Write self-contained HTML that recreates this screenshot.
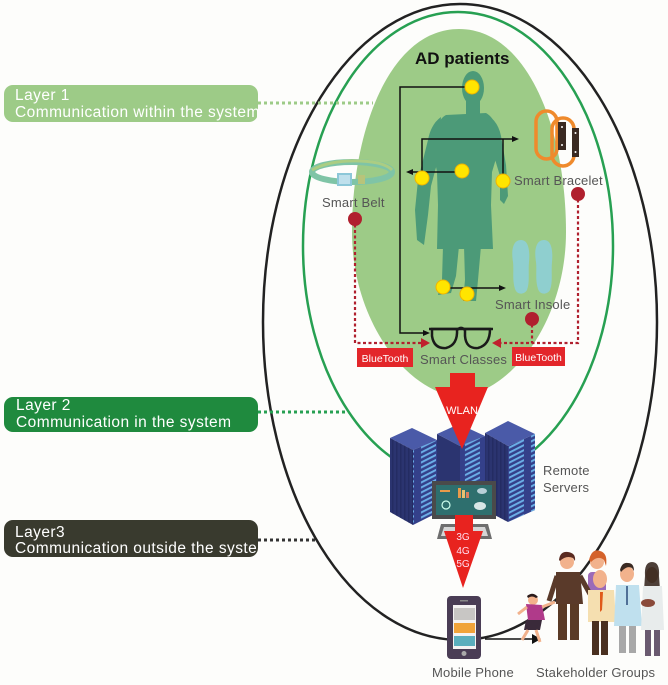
<!DOCTYPE html>
<html><head><meta charset="utf-8"><style>
html,body{margin:0;padding:0;background:#fdfdfb;}
svg{display:block;}
text{font-family:"Liberation Sans",sans-serif;}
.lbl{letter-spacing:0.2px;}
.lay{letter-spacing:0.45px;}
</style></head><body>
<svg width="668" height="685" viewBox="0 0 668 685" xmlns="http://www.w3.org/2000/svg">
<defs>
<pattern id="slots" width="22" height="5" patternUnits="userSpaceOnUse" patternTransform="skewY(-27)">
<rect x="3" y="1" width="15" height="2.2" fill="#6aaee6"/>
</pattern>
<pattern id="vents" width="4" height="10" patternUnits="userSpaceOnUse" patternTransform="skewY(27)">
<rect x="0" y="0" width="1.5" height="10" fill="#1f275a"/>
</pattern>
<clipPath id="boxclip"><rect x="0" y="0" width="258" height="685"/></clipPath>
</defs>
<rect width="668" height="685" fill="#fdfdfb"/>

<!-- outer black ellipse -->
<ellipse cx="460" cy="322" rx="197" ry="318" fill="none" stroke="#222" stroke-width="2.5"/>
<!-- green ellipse -->
<ellipse cx="458" cy="246" rx="155" ry="234" fill="none" stroke="#27a052" stroke-width="2.5"/>
<!-- light green egg -->
<path d="M459,29 C528,29 566,130 566,232 C566,320 512,392 459,397 C406,392 352,320 352,232 C352,130 390,29 459,29 Z" fill="#9dcb87"/>

<!-- layer boxes -->
<rect x="4" y="85" width="254" height="37" rx="9" fill="#9dcb87"/>
<g clip-path="url(#boxclip)">
<text class="lay" x="15" y="100" font-size="15.5" fill="#fff">Layer 1</text>
<text class="lay" x="15" y="117" font-size="15.5" fill="#fff">Communication within the system</text>
</g>
<line x1="258" y1="103" x2="373" y2="103" stroke="#9dcb87" stroke-width="3" stroke-dasharray="3,3"/>

<rect x="4" y="397" width="254" height="35" rx="9" fill="#1f8a3e"/>
<g clip-path="url(#boxclip)">
<text class="lay" x="16" y="410" font-size="15.5" fill="#fff">Layer 2</text>
<text class="lay" x="16" y="427" font-size="15.5" fill="#fff">Communication in the system</text>
</g>
<line x1="258" y1="412" x2="349" y2="412" stroke="#27a052" stroke-width="3" stroke-dasharray="3,3"/>

<rect x="4" y="520" width="254" height="37" rx="9" fill="#393a2e"/>
<g clip-path="url(#boxclip)">
<text class="lay" x="15" y="537" font-size="15.5" fill="#fff">Layer3</text>
<text class="lay" x="15" y="553" font-size="15.5" fill="#fff">Communication outside the system</text>
</g>
<line x1="258" y1="540" x2="318" y2="540" stroke="#333" stroke-width="3" stroke-dasharray="3,3"/>

<!-- AD patients -->
<text x="415" y="64" font-size="17" font-weight="bold" fill="#111">AD patients</text>

<!-- silhouette -->
<g fill="#4c9a78">
<ellipse cx="473" cy="88" rx="11" ry="17"/>
<rect x="466" y="98" width="14" height="18"/>
<path d="M446,115 L486,113 Q495,118 497,132 L498,152 L492,172 L491,205 L493,249 L437,249 L438,205 L437,172 L432,146 Q436,120 446,115 Z"/>
<path d="M441,117 Q431,124 428,140 L418,180 L415,210 L417,240 L424,245 L428,215 L431,186 L438,160 Z"/>
<path d="M487,115 Q498,121 501,136 L506,165 L508,196 L504,204 L500,200 L500,176 L494,156 Z"/>
<path d="M443,246 L459,246 L456,276 L451,293 L438,295 L442,280 Z"/>
<path d="M464,246 L481,246 L478,280 L476,301 L463,301 L465,280 Z"/>
</g>

<!-- black connectors -->
<g stroke="#111" stroke-width="1.5" fill="none">
<polyline points="472,87 400,87 400,333 424,333"/>
<polyline points="422,178 422,139 513,139"/>
<line x1="503" y1="139" x2="503" y2="180"/>
<line x1="462" y1="172" x2="412" y2="172"/>
<line x1="443" y1="288" x2="500" y2="288"/>
<line x1="467" y1="294" x2="467" y2="288"/>
</g>
<g fill="#111">
<polygon points="430,333 423,330 423,336"/>
<polygon points="519,139 512,136 512,142"/>
<polygon points="406,172 413,169 413,175"/>
<polygon points="506,288 499,285 499,291"/>
</g>

<!-- yellow dots -->
<g fill="#ffe500" stroke="#f0b400" stroke-width="1">
<circle cx="472" cy="87" r="7"/>
<circle cx="462" cy="171" r="7"/>
<circle cx="422" cy="178" r="7"/>
<circle cx="503" cy="181" r="7"/>
<circle cx="443" cy="287" r="7"/>
<circle cx="467" cy="294" r="7"/>
</g>

<!-- belt -->
<g>
<ellipse cx="352" cy="172" rx="40" ry="10" fill="none" stroke="#7fc4a6" stroke-width="6"/>
<path d="M312,170 Q330,160 360,161 Q385,162 392,170" fill="none" stroke="#b7cf7a" stroke-width="3" opacity="0.8"/>
<rect x="338" y="174" width="13" height="11" fill="#bfe0ec" stroke="#8cc7d8" stroke-width="2"/>
<rect x="358" y="175" width="7" height="9" fill="#b8c47a"/>
</g>
<text class="lbl" x="322" y="207" font-size="13" fill="#555">Smart Belt</text>

<!-- bracelet -->
<g fill="none" stroke="#ef8a2c" stroke-width="3.5">
<rect x="536" y="111" width="21" height="48" rx="10.5"/>
<rect x="552" y="118" width="22" height="48" rx="11"/>
</g>
<rect x="558" y="122" width="8" height="28" fill="#3a2a22"/>
<rect x="572" y="128" width="7" height="29" fill="#3a2a22"/>
<g fill="#fff"><circle cx="562" cy="127" r="1"/><circle cx="562" cy="145" r="1"/><circle cx="575.5" cy="133" r="1"/><circle cx="575.5" cy="152" r="1"/></g>
<text class="lbl" x="514" y="185" font-size="13" fill="#555">Smart Bracelet</text>

<!-- insole -->
<g fill="#8fcfcf">
<path d="M521,240 C529,240 530,252 529,262 C528,272 530,282 527,290 C524,295 517,295 515,289 C512,280 514,270 513,262 C511,250 513,240 521,240 Z"/>
<path d="M544,240 C552,240 553,252 552,262 C551,272 553,282 550,290 C547,295 540,295 538,289 C535,280 537,270 536,262 C534,250 536,240 544,240 Z"/>
</g>
<text class="lbl" x="495" y="309" font-size="13" fill="#555">Smart Insole</text>

<!-- red dashed bluetooth lines -->
<g stroke="#b0202e" stroke-width="2.2" fill="none" stroke-dasharray="3,2.5">
<polyline points="355,219 355,343 422,343"/>
<polyline points="578,194 578,343 500,343"/>
<line x1="532" y1="319" x2="532" y2="343"/>
</g>
<polygon points="430,343 421,338 421,348" fill="#c0202e"/>
<polygon points="492,343 501,338 501,348" fill="#c0202e"/>
<g fill="#b0202e">
<circle cx="355" cy="219" r="7"/>
<circle cx="578" cy="194" r="7"/>
<circle cx="532" cy="319" r="7"/>
</g>

<!-- glasses -->
<g fill="none" stroke="#1a1a1a" stroke-width="2.5">
<path d="M432,329 L457,329 Q458,345 446,348 Q434,349 432,336 Z"/>
<path d="M465,329 L490,329 Q490,345 478,348 Q466,349 465,336 Z"/>
<path d="M457,330 Q461,326 465,330"/>
<line x1="429" y1="329" x2="493" y2="329"/>
</g>
<text class="lbl" x="420" y="364" font-size="13" fill="#555">Smart Classes</text>

<!-- bluetooth boxes -->
<rect x="357" y="348" width="56" height="19" fill="#e3262a"/>
<text x="385" y="362" font-size="10.5" fill="#fff" text-anchor="middle">BlueTooth</text>
<rect x="512" y="347" width="53" height="19" fill="#e3262a"/>
<text x="538.5" y="361" font-size="10.5" fill="#fff" text-anchor="middle">BlueTooth</text>

<!-- servers -->
<g>
<polygon points="437,434 459,424 485,436 460,446" fill="#4a5aa8"/>
<polygon points="437,434 460,446 460,520 437,508" fill="#2b3470"/>
<polygon points="460,446 485,436 485,508 460,520" fill="#34408a"/>
<polygon points="460,446 485,436 485,508 460,520" fill="url(#slots)"/>
<polygon points="390,438 412,428 437,440 413,450" fill="#4a5aa8"/>
<polygon points="390,438 413,450 413,525 390,512" fill="#2b3470"/>
<polygon points="390,438 413,450 413,525 390,512" fill="url(#vents)" opacity="0.6"/>
<polygon points="413,450 437,440 437,513 413,525" fill="#34408a"/>
<polygon points="413,450 437,440 437,513 413,525" fill="url(#slots)"/>
<polygon points="485,433 508,421 535,434 508,446" fill="#4a5aa8"/>
<polygon points="485,433 508,446 508,522 485,510" fill="#2b3470"/>
<polygon points="485,433 508,446 508,522 485,510" fill="url(#vents)" opacity="0.6"/>
<polygon points="508,446 535,434 535,510 508,522" fill="#34408a"/>
<polygon points="508,446 535,434 535,510 508,522" fill="url(#slots)"/>
</g>
<!-- monitor -->
<rect x="432" y="481" width="64" height="38" fill="#4a4a4a"/>
<rect x="436" y="485" width="56" height="30" fill="#2e6f6e"/>
<rect x="458" y="488" width="3" height="10" fill="#e99a4a"/>
<rect x="462" y="490" width="3" height="8" fill="#e8c070"/>
<rect x="466" y="492" width="3" height="6" fill="#d98060"/>
<circle cx="446" cy="505" r="4" fill="none" stroke="#cfe" stroke-width="1.2"/>
<ellipse cx="480" cy="506" rx="6" ry="4" fill="#d8e6e6"/>
<ellipse cx="482" cy="491" rx="5" ry="3" fill="#b8d0d8"/>
<rect x="440" y="490" width="10" height="2" fill="#e99a4a"/>
<rect x="458" y="519" width="12" height="6" fill="#666"/>
<polygon points="441,524 488,524 492,539 437,539" fill="#6e6e6e"/>
<polygon points="444,527 485,527 488,536 441,536" fill="#d6d6d6"/>

<!-- red arrows -->
<polygon points="450,373 475,373 475,387 488,387 462,449 435,387 450,387" fill="#e8231f"/>
<text x="462" y="414" font-size="11" fill="#fff" text-anchor="middle">WLAN</text>
<polygon points="455,515 473,515 473,531 483,531 463,588 444,531 455,531" fill="#e8231f"/>
<text x="463" y="540" font-size="10" fill="#fde" text-anchor="middle">3G</text>
<text x="463" y="554" font-size="10" fill="#fde" text-anchor="middle">4G</text>
<text x="463" y="567" font-size="10" fill="#fde" text-anchor="middle">5G</text>

<text class="lbl" x="543" y="475" font-size="13" fill="#555">Remote</text>
<text class="lbl" x="543" y="492" font-size="13" fill="#555">Servers</text>

<!-- phone -->
<rect x="447" y="596" width="34" height="63" rx="4" fill="#4a3d55"/>
<rect x="453" y="605" width="23" height="44" fill="#f4f2f2"/>
<rect x="454" y="608" width="21" height="12" fill="#c8c6c4"/>
<rect x="454" y="623" width="21" height="10" fill="#f0a33a"/>
<rect x="454" y="636" width="21" height="10" fill="#5aaebd"/>
<rect x="460" y="600" width="8" height="1.5" fill="#888"/>
<circle cx="464" cy="653.5" r="2.5" fill="#aaa"/>
<line x1="485" y1="639" x2="534" y2="639" stroke="#111" stroke-width="1.5"/>
<polygon points="541,639 532,634 532,644" fill="#111"/>
<text class="lbl" x="432" y="677" font-size="13" fill="#555">Mobile Phone</text>
<text class="lbl" x="536" y="677" font-size="13" fill="#555">Stakeholder Groups</text>

<!-- people -->
<g>
<circle cx="533" cy="600" r="5" fill="#f2b28c"/>
<path d="M527,596 Q533,591 538,597 L536,598 Q532,595 528,598 Z" fill="#2a1a1a"/>
<path d="M526,604 L542,605 L545,620 L528,620 Z" fill="#b03a8a"/>
<path d="M526,620 L542,620 L540,630 L524,630 Z" fill="#3a2a3a"/>
<line x1="528" y1="630" x2="522" y2="640" stroke="#f2b28c" stroke-width="3"/>
<line x1="536" y1="630" x2="540" y2="642" stroke="#f2b28c" stroke-width="3"/>
<line x1="542" y1="607" x2="555" y2="602" stroke="#f2b28c" stroke-width="3"/>
<line x1="527" y1="607" x2="518" y2="614" stroke="#f2b28c" stroke-width="3"/>
<circle cx="597" cy="562" r="7" fill="#f2b28c"/>
<path d="M589,560 Q592,548 600,551 Q608,553 606,566 L604,560 Q598,555 591,562 Z" fill="#d4622a"/>
<rect x="588" y="572" width="18" height="30" rx="4" fill="#9b6ab8"/>
<circle cx="567" cy="562" r="7" fill="#f2b28c"/>
<path d="M559,560 Q560,551 568,552 Q576,553 575,561 L573,558 Q566,555 560,561 Z" fill="#5a2a20"/>
<path d="M556,572 L580,572 L583,604 L556,604 Z" fill="#5a3a2a"/>
<line x1="557" y1="576" x2="549" y2="601" stroke="#5a3a2a" stroke-width="5"/>
<line x1="580" y1="576" x2="590" y2="594" stroke="#5a3a2a" stroke-width="5"/>
<rect x="558" y="604" width="9" height="36" fill="#5a3a26"/>
<rect x="570" y="604" width="9" height="36" fill="#5a3a26"/>
<ellipse cx="600" cy="579" rx="7" ry="9" fill="#f2b28c"/>
<path d="M588,590 L614,590 L616,622 L588,622 Z" fill="#f5dfb0"/>
<polygon points="600,592 603,592 602,610 600,612" fill="#e05a1a"/>
<rect x="592" y="621" width="7" height="34" fill="#4a3020"/>
<rect x="601" y="621" width="7" height="34" fill="#4a3020"/>
<ellipse cx="627" cy="574" rx="7" ry="8" fill="#f2b28c"/>
<path d="M620,570 Q622,562 628,563 Q634,563 634,571 L632,568 Q627,565 621,572 Z" fill="#3a2a22"/>
<path d="M616,585 L639,585 L642,626 L614,626 Z" fill="#bfe0ee"/>
<rect x="619" y="626" width="7" height="27" fill="#a8a8a8"/>
<rect x="629" y="626" width="7" height="27" fill="#a8a8a8"/>
<line x1="627" y1="586" x2="627" y2="605" stroke="#2a4a7a" stroke-width="1.5"/>
<ellipse cx="652" cy="575" rx="6" ry="8" fill="#8a5a3a"/>
<path d="M645,576 Q644,562 652,562 Q660,562 659,576 L660,590 L644,590 Z" fill="#3a2a22" opacity="0.9"/>
<path d="M643,586 L662,586 L664,630 L641,630 Z" fill="#e8ecec"/>
<ellipse cx="648" cy="603" rx="7" ry="4" fill="#8a4a3a"/>
<rect x="645" y="630" width="6" height="26" fill="#6a5a70"/>
<rect x="654" y="630" width="6" height="26" fill="#6a5a70"/>
</g>
</svg>
</body></html>
